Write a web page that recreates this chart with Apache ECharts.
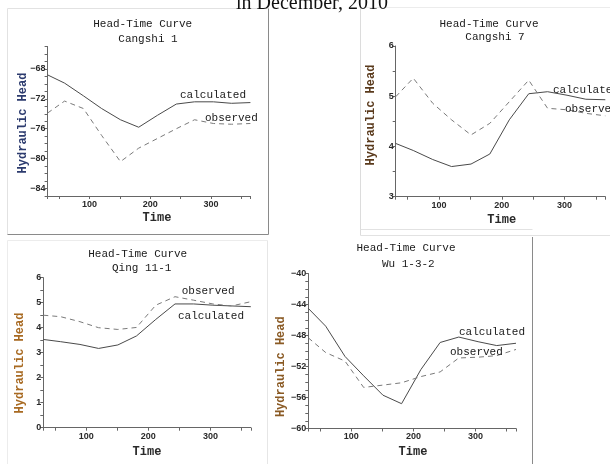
<!DOCTYPE html>
<html>
<head>
<meta charset="utf-8">
<script src="https://cdn.jsdelivr.net/npm/echarts@6/dist/echarts.min.js"></script>
<style>
html,body{margin:0;padding:0;background:#fff;}
#c{width:610px;height:464px;}
</style>
</head>
<body>
<div id="c"></div>
<script>
// Time (day of year, end of each month)
const days = [31, 59, 90, 120, 151, 181, 212, 243, 273, 304, 334, 365];
const xTickLabels = [100, 200, 300];

// Cangshi 1
const cangshi1Calc = [-68.8, -69.9, -71.6, -73.3, -74.8, -75.8, -74.2, -72.7, -72.4, -72.4, -72.6, -72.5];
const cangshi1Obs  = [-73.9, -72.3, -73.3, -76.9, -80.4, -78.6, -77.3, -76.0, -74.8, -75.3, -75.4, -75.3];
// Cangshi 7
const cangshi7Calc = [4.06, 3.92, 3.74, 3.60, 3.65, 3.85, 4.53, 5.05, 5.09, 5.02, 4.94, 4.93];
const cangshi7Obs  = [4.99, 5.36, 4.86, 4.53, 4.23, 4.46, 4.89, 5.32, 4.76, 4.73, 4.66, 4.61];
// Qing 11-1
const qing11Calc = [3.53, 3.44, 3.33, 3.17, 3.31, 3.67, 4.33, 4.95, 4.95, 4.90, 4.87, 4.84];
const qing11Obs  = [4.50, 4.44, 4.24, 4.00, 3.93, 4.01, 4.90, 5.24, 5.10, 4.95, 4.87, 5.04];
// Wu 1-3-2
const wu132Calc = [-44.5, -46.8, -50.7, -53.2, -55.7, -56.8, -52.4, -48.9, -48.2, -48.8, -49.3, -49.0];
const wu132Obs  = [-48.3, -50.2, -51.3, -54.7, -54.4, -54.1, -53.3, -52.7, -50.9, -50.8, -50.6, -49.8];

const panelNames = ['Cangshi 1', 'Cangshi 7', 'Qing 11-1', 'Wu 1-3-2'];
const yLabelsC1 = [-84, -80, -76, -72, -68];
const yLabelsC7 = [3, 4, 5, 6];
const yLabelsQ = [0, 1, 2, 3, 4, 5, 6];
const yLabelsW = [-60, -56, -52, -48, -44, -40];

const panels = [
  {grid:{left:47.6, top:46.5, width:202.8, height:149.5}, y:{min:-85, max:-65, interval:1}, yLabels:yLabelsC1, calc:cangshi1Calc, obs:cangshi1Obs},
  {grid:{left:395.7, top:46, width:209.6, height:150.7}, y:{min:3, max:6, interval:0.5}, yLabels:yLabelsC7, calc:cangshi7Calc, obs:cangshi7Obs},
  {grid:{left:43.3, top:277.7, width:207.5, height:150}, y:{min:0, max:6, interval:0.5}, yLabels:yLabelsQ, calc:qing11Calc, obs:qing11Obs},
  {grid:{left:308.3, top:273.5, width:207.7, height:155}, y:{min:-60, max:-40, interval:1}, yLabels:yLabelsW, calc:wu132Calc, obs:wu132Obs}
];

const axisColor = '#666';
const grids = [], xAxes = [], yAxes = [], series = [];
panels.forEach((p, i) => {
  grids.push(Object.assign({containLabel:false}, p.grid));
  xAxes.push({
    type:'value', gridIndex:i, min:31, max:365, splitNumber:7,
    splitLine:{show:false},
    axisLine:{show:true, lineStyle:{color:axisColor, width:1}},
    axisTick:{show:true, length:3, lineStyle:{color:axisColor}},
    axisLabel:{
      formatter: v => (xTickLabels.indexOf(v) >= 0 ? String(v) : ''),
      fontSize:9, fontWeight:'bold', color:'#2a2a2a', margin:4, fontFamily:'Liberation Sans'
    }
  });
  yAxes.push({
    type:'value', gridIndex:i, min:p.y.min, max:p.y.max, interval:p.y.interval,
    splitLine:{show:false},
    axisLine:{show:true, lineStyle:{color:axisColor, width:1}},
    axisTick:{show:true, length:3, lineStyle:{color:axisColor}},
    axisLabel:{
      formatter: v => (p.yLabels.indexOf(Math.round(v*1000)/1000) >= 0 ? String(v).replace('-', '\u2212') : ''),
      fontSize:9, fontWeight:'bold', color:'#2a2a2a', margin:2, fontFamily:'Liberation Sans'
    }
  });
  series.push({
    type:'line', xAxisIndex:i, yAxisIndex:i, symbol:'none', silent:true,
    data: days.map((d, k) => [d, p.calc[k]]),
    lineStyle:{color:'#4a4a4a', width:1, type:'solid'}
  });
  series.push({
    type:'line', xAxisIndex:i, yAxisIndex:i, symbol:'none', silent:true,
    data: days.map((d, k) => [d, p.obs[k]]),
    lineStyle:{color:'#7a7a7a', width:1, type:[5,4]}
  });
});

const mono = '"Liberation Mono", "DejaVu Sans Mono", monospace';
function txt(x, y, text, opts) {
  opts = opts || {};
  return {
    type:'text', x:x, y:y, rotation:opts.rotation || 0, silent:true, z:10,
    style:{
      text:text, fill:opts.color || '#1a1a1a',
      font:(opts.weight || 'normal') + ' ' + (opts.size || 11) + 'px ' + (opts.family || mono),
      textAlign:opts.align || 'center', textVerticalAlign:'middle'
    }
  };
}
function line(x1, y1, x2, y2, color) {
  return {type:'line', silent:true, z:1, shape:{x1:x1, y1:y1, x2:x2, y2:y2}, style:{stroke:color, lineWidth:1}};
}

const graphics = [
  // frames
  line(7.5, 8.5, 268.5, 8.5, '#e2e2e2'),
  line(7.5, 8.5, 7.5, 234.5, '#e2e2e2'),
  line(268.5, 8.5, 268.5, 234.5, '#8a8a8a'),
  line(7.5, 234.5, 268.5, 234.5, '#8a8a8a'),
  line(360.5, 7.5, 610, 7.5, '#ececec'),
  line(360.5, 7.5, 360.5, 235.5, '#dcdcdc'),
  line(360.5, 229.5, 532.5, 229.5, '#e2e2e2'),
  line(360.5, 235.5, 610, 235.5, '#e2e2e2'),
  line(7.5, 240.5, 267.5, 240.5, '#ececec'),
  line(7.5, 240.5, 7.5, 464, '#ececec'),
  line(267.5, 240.5, 267.5, 464, '#e6e6e6'),
  line(532.5, 237, 532.5, 464, '#8a8a8a'),
  // top caption (cut off)
  txt(312, 3.5, 'in December, 2010', {size:20, family:'"Liberation Serif", serif', color:'#111'}),
  // titles
  txt(142.7, 24, 'Head-Time Curve'), txt(148, 39, panelNames[0]),
  txt(489, 24, 'Head-Time Curve'), txt(495, 37, panelNames[1]),
  txt(137.7, 254, 'Head-Time Curve'), txt(141.7, 267.7, panelNames[2]),
  txt(406, 248.3, 'Head-Time Curve'), txt(408.3, 264, panelNames[3]),
  // axis names
  txt(22.7, 123, 'Hydraulic Head', {rotation:Math.PI/2, weight:'bold', size:12, color:'#2c3b6e'}),
  txt(371, 115, 'Hydraulic Head', {rotation:Math.PI/2, weight:'bold', size:12, color:'#5a3a1c'}),
  txt(20, 363, 'Hydraulic Head', {rotation:Math.PI/2, weight:'bold', size:12, color:'#a86a22'}),
  txt(281, 366.7, 'Hydraulic Head', {rotation:Math.PI/2, weight:'bold', size:12, color:'#8a5a24'}),
  txt(157, 218, 'Time', {weight:'bold', size:12, color:'#2a2a2a'}),
  txt(501.7, 220, 'Time', {weight:'bold', size:12, color:'#2a2a2a'}),
  txt(147, 451.7, 'Time', {weight:'bold', size:12, color:'#2a2a2a'}),
  txt(413, 451.7, 'Time', {weight:'bold', size:12, color:'#2a2a2a'}),
  // series labels
  txt(180, 95, 'calculated', {align:'left'}),
  txt(205, 118, 'observed', {align:'left'}),
  txt(553, 90, 'calculated', {align:'left'}),
  txt(565, 109, 'observed', {align:'left'}),
  txt(181.7, 290.7, 'observed', {align:'left'}),
  txt(178, 315.7, 'calculated', {align:'left'}),
  txt(459, 331.7, 'calculated', {align:'left'}),
  txt(450, 352, 'observed', {align:'left'})
];

const chart = echarts.init(document.getElementById('c'), null, {renderer:'canvas'});
chart.setOption({
  animation:false,
  backgroundColor:'#fff',
  grid:grids, xAxis:xAxes, yAxis:yAxes, series:series,
  graphic:graphics
});
</script>
</body>
</html>
